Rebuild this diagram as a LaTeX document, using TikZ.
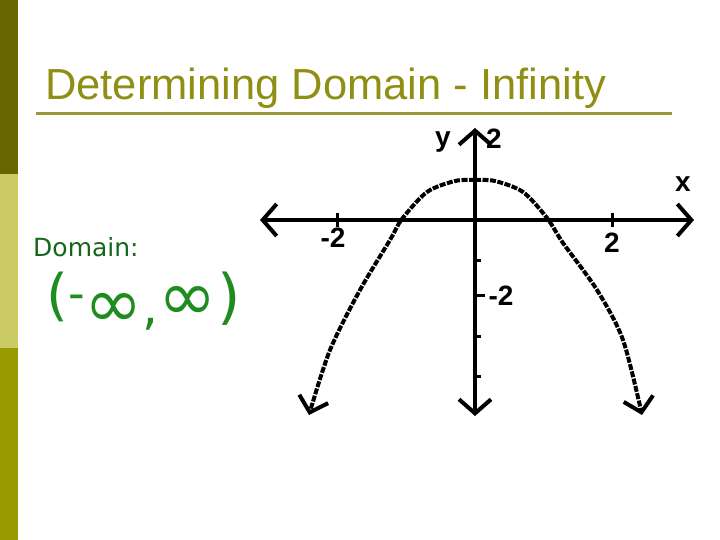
\documentclass[tikz,border=0pt]{standalone}
\usepackage{fontspec}
\setmainfont{Liberation Sans}
\newfontfamily\dejavu{DejaVu Sans}
\usetikzlibrary{arrows.meta}
\definecolor{barA}{HTML}{666600}
\definecolor{barB}{HTML}{CCCC66}
\definecolor{barC}{HTML}{999900}
\definecolor{titlecol}{HTML}{8F8F14}
\definecolor{rulecol}{HTML}{999933}
\definecolor{domcol}{HTML}{16661A}
\definecolor{handgreen}{HTML}{1E8C1E}
\tikzset{
  axisline/.style={line width=4pt, line cap=round, -{Straight Barb[length=14pt,width=32pt,line width=4pt]}},
  curveline/.style={line width=4pt, dash pattern=on 6pt off 1.5pt},
  tickline/.style={line width=3pt},
  hand/.style={font=\bfseries\fontsize{28}{30}\selectfont, inner sep=0pt},
  gr/.style={inner sep=0pt, text=handgreen},
}
\newcommand{\fs}[1]{\fontsize{#1}{#1}\selectfont}
\begin{document}
\begin{tikzpicture}[x=1pt,y=-1pt]
\useasboundingbox (0,0) rectangle (720,540);
% left bar
\fill[barA] (0,0) rectangle (18,174);
\fill[barB] (0,174) rectangle (18,348);
\fill[barC] (0,348) rectangle (18,540);
% title
\node[anchor=base west, inner sep=0pt, text=titlecol, font=\fontsize{43.5}{46}\selectfont] (title) at (45,100) {Determining Domain - Infinity};
\draw[rulecol, line width=3pt] (36,114) -- (672,114);
% domain
\node[anchor=base west, inner sep=0pt, text=domcol, font=\dejavu\fontsize{25}{28}\selectfont] (dom) at (33,256) {Domain:};
% handwritten answer
\node[gr, anchor=base west, font=\dejavu] (ans) at (46,330) {%
  \raisebox{16pt}{\fs{56}(}%
  \raisebox{21pt}{\fs{46}-}%
  \raisebox{3pt}{\fs{70}∞}%
  \raisebox{6pt}{\fs{50},}%
  \raisebox{10pt}{\fs{70}∞}%
  \raisebox{13pt}{\fs{60})}};
% axes
\coordinate (O) at (475,220);
\coordinate (xl) at (260,220);
\coordinate (xr) at (694,220);
\coordinate (yt) at (475,128);
\coordinate (yb) at (475,416);
\draw[axisline] (O) -- (xl);
\draw[axisline] (O) -- (xr);
\draw[axisline] (O) -- (yt);
\draw[axisline] (O) -- (yb);
% ticks
\draw[tickline] (337,213) -- (337,227);
\draw[tickline] (612,213) -- (612,227);
\draw[tickline] (475,260) -- (481,260);
\draw[tickline] (475,295) -- (485,295);
\draw[tickline] (475,336) -- (481,336);
\draw[tickline] (475,376) -- (481,376);
% labels
\node[hand] (lm2) at (333,238) {-2};
\node[hand] (lp2) at (612,243) {2};
\node[hand] (ym2) at (501,296) {-2};
\node[hand] (ly) at (443,142) {y};
\node[hand] (y2) at (494,139) {2};
\node[hand] (lx) at (683,184) {x};
% parabola
\draw[curveline, -{Straight Barb[length=14pt,width=30pt,line width=4pt]}]
  plot[smooth, tension=0.5] coordinates {(475,180) (455,181) (427,192) (402,219) (390,240) (360,290) (330,350) (309,415)};
\draw[curveline, -{Straight Barb[length=14pt,width=30pt,line width=4pt]}]
  plot[smooth, tension=0.5] coordinates {(475,180) (495,181) (523,192) (547,218) (563,243) (597,290) (623,340) (642,415)};
\end{tikzpicture}
\end{document}
